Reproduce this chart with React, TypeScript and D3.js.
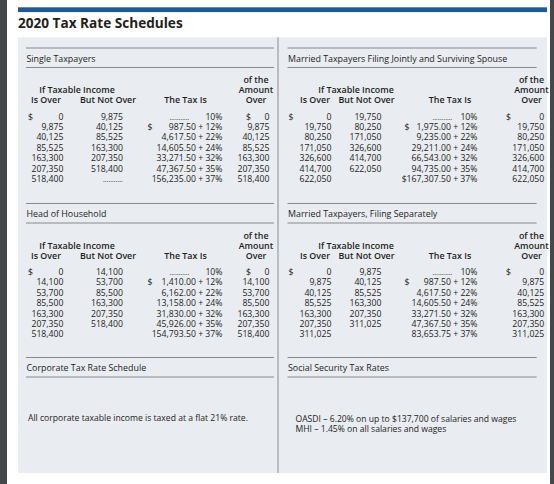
import React from "react";
import * as d3 from "d3";

// ---------- data ----------
const rates = [10, 12, 22, 24, 32, 35, 37];

const singleIsOver = [0, 9875, 40125, 85525, 163300, 207350, 518400];
const singleButNotOver = [9875, 40125, 85525, 163300, 207350, 518400, null];
const singleTaxBase = [0, 987.5, 4617.5, 14605.5, 33271.5, 47367.5, 156235.0];

const jointIsOver = [0, 19750, 80250, 171050, 326600, 414700, 622050];
const jointButNotOver = [19750, 80250, 171050, 326600, 414700, 622050, null];
const jointTaxBase = [0, 1975.0, 9235.0, 29211.0, 66543.0, 94735.0, 167307.5];

const hohIsOver = [0, 14100, 53700, 85500, 163300, 207350, 518400];
const hohButNotOver = [14100, 53700, 85500, 163300, 207350, 518400, null];
const hohTaxBase = [0, 1410.0, 6162.0, 13158.0, 31830.0, 45926.0, 154793.5];

const sepIsOver = [0, 9875, 40125, 85525, 163300, 207350, 311025];
const sepButNotOver = [9875, 40125, 85525, 163300, 207350, 311025, null];
const sepTaxBase = [0, 987.5, 4617.5, 14605.5, 33271.5, 47367.5, 83653.75];

const sectionTitles = [
  "Single Taxpayers",
  "Married Taxpayers Filing Jointly and Surviving Spouse",
  "Head of Household",
  "Married Taxpayers, Filing Separately",
  "Corporate Tax Rate Schedule",
  "Social Security Tax Rates",
];

const corporateText = ["All corporate taxable income is taxed at a flat 21% rate."];
const socialSecurityText = [
  "OASDI – 6.20% on up to $137,700 of salaries and wages",
  "MHI – 1.45% on all salaries and wages",
];

const mainTitle = "2020 Tax Rate Schedules";

// ---------- styling / layout ----------
const W = 554;
const H = 484;
const FONT = "'Open Sans', 'Noto Sans', sans-serif";
const TEXT = "#231f20";
const RULE = "#7d7f82";
const PANEL = "#e9ecf1";
const BLUE = "#1f5b92";

const fmtInt = d3.format(",");
const fmtDec = d3.format(",.2f");

type Cols = {
  x0: number;
  x1: number;
  dollar: number;
  isOverR: number;
  bnoR: number;
  taxDollar: number;
  taxR: number;
  dotsL: number;
  amtDollar: number;
  amtR: number;
  hIncome: number;
  hIsOver: number;
  hBno: number;
  hTax: number;
  hAmt: number;
};

const leftCols: Cols = {
  x0: 26, x1: 274,
  dollar: 28, isOverR: 63.5, bnoR: 123, taxDollar: 147.5, taxR: 222.5,
  dotsL: 169.5, amtDollar: 246, amtR: 269.5,
  hIncome: 77, hIsOver: 46, hBno: 108, hTax: 185.5, hAmt: 256,
};
const rightCols: Cols = {
  x0: 287.5, x1: 536.7,
  dollar: 288.5, isOverR: 331.5, bnoR: 381.5, taxDollar: 404.5, taxR: 477.5,
  dotsL: 432.5, amtDollar: 506, amtR: 544.3,
  hIncome: 356, hIsOver: 315, hBno: 366.5, hTax: 450, hAmt: 531.5,
};

const tops = [48, 203.5, 357.5];

type Schedule = {
  title: string;
  cols: Cols;
  top: number;
  isOver: number[];
  butNotOver: (number | null)[];
  taxBase: number[];
  openDots: boolean;
  dollarRows: number[];
  attachedDollarRows: number[];
};

const schedules: Schedule[] = [
  { title: sectionTitles[0], cols: leftCols, top: tops[0], isOver: singleIsOver, butNotOver: singleButNotOver, taxBase: singleTaxBase, openDots: true, dollarRows: [1], attachedDollarRows: [] },
  { title: sectionTitles[1], cols: rightCols, top: tops[0], isOver: jointIsOver, butNotOver: jointButNotOver, taxBase: jointTaxBase, openDots: false, dollarRows: [1], attachedDollarRows: [6] },
  { title: sectionTitles[2], cols: leftCols, top: tops[1], isOver: hohIsOver, butNotOver: hohButNotOver, taxBase: hohTaxBase, openDots: false, dollarRows: [1], attachedDollarRows: [] },
  { title: sectionTitles[3], cols: rightCols, top: tops[1], isOver: sepIsOver, butNotOver: sepButNotOver, taxBase: sepTaxBase, openDots: false, dollarRows: [1], attachedDollarRows: [] },
];

const DATA_FS = 8.7;
const HEAD_FS = 8.9;
const SEC_FS = 8.9;
const BODY_FS = 8.6;

function Dots({ x, y }: { x: number; y: number }) {
  return (
    <text x={x} y={y} fontSize={6.5} fill={TEXT} letterSpacing={0.1}>
      ...........
    </text>
  );
}

function SectionHeader({ cols, top, title }: { cols: Cols; top: number; title: string }) {
  return (
    <g>
      <line x1={cols.x0} x2={cols.x1} y1={top} y2={top} stroke={RULE} strokeWidth={0.9} />
      <text x={cols.x0 + 0.5} y={top + 13.5} fontSize={SEC_FS} fill={TEXT}>
        {title}
      </text>
      <line x1={cols.x0} x2={cols.x1} y1={top + 19.5} y2={top + 19.5} stroke={RULE} strokeWidth={0.9} />
    </g>
  );
}

function ScheduleTable({ s }: { s: Schedule }) {
  const c = s.cols;
  const rows = d3.range(s.isOver.length);
  const y = d3.scaleLinear().domain([0, rows.length - 1]).range([s.top + 71.5, s.top + 71.5 + 10.4 * (rows.length - 1)]);
  const hy = s.top;
  return (
    <g>
      <SectionHeader cols={c} top={s.top} title={s.title} />
      <g fontSize={HEAD_FS} fontWeight={600} fill={TEXT} textAnchor="middle">
        <text x={c.hAmt} y={hy + 35}>of the</text>
        <text x={c.hIncome} y={hy + 45}>If Taxable Income</text>
        <text x={c.hAmt} y={hy + 45}>Amount</text>
        <text x={c.hIsOver} y={hy + 55}>Is Over</text>
        <text x={c.hBno} y={hy + 55}>But Not Over</text>
        <text x={c.hTax} y={hy + 55}>The Tax Is</text>
        <text x={c.hAmt} y={hy + 55}>Over</text>
      </g>
      <g fontSize={DATA_FS} fill={TEXT}>
        {rows.map((i) => {
          const yy = y(i);
          const bno = s.butNotOver[i];
          const attached = s.attachedDollarRows.includes(i) ? "$" : "";
          return (
            <g key={i}>
              {i === 0 && <text x={c.dollar} y={yy}>$</text>}
              <text x={c.isOverR} y={yy} textAnchor="end">{fmtInt(s.isOver[i])}</text>
              {bno !== null ? (
                <text x={c.bnoR} y={yy} textAnchor="end">{fmtInt(bno)}</text>
              ) : s.openDots ? (
                <Dots x={c.bnoR - 20} y={yy} />
              ) : null}
              {i === 0 ? (
                <g>
                  <Dots x={c.dotsL} y={yy} />
                  <text x={c.taxR} y={yy} textAnchor="end">{rates[i]}%</text>
                </g>
              ) : (
                <g>
                  {s.dollarRows.includes(i) && <text x={c.taxDollar} y={yy}>$</text>}
                  <text x={c.taxR} y={yy} textAnchor="end">
                    {attached + fmtDec(s.taxBase[i]) + " + " + rates[i] + "%"}
                  </text>
                </g>
              )}
              {i === 0 && <text x={c.amtDollar} y={yy}>$</text>}
              <text x={c.amtR} y={yy} textAnchor="end">{fmtInt(s.isOver[i])}</text>
            </g>
          );
        })}
      </g>
    </g>
  );
}

export default function App() {
  return (
    <div style={{ position: "absolute", left: 0, top: 0, width: W, height: H }}>
      <svg width={W} height={H} viewBox={`0 0 ${W} ${H}`} fontFamily={FONT} style={{ display: "block" }}>
        <rect x={0} y={0} width={W} height={H} fill="#ffffff" />
        <rect x={0} y={0} width={7} height={H} fill="#45484b" />
        <rect x={550} y={0} width={4} height={H} fill="#45484b" />
        <rect x={18} y={7.3} width={529} height={4.8} fill={BLUE} />
        <text x={18} y={28} fontSize={13.6} fontWeight={700} fill={TEXT}>
          {mainTitle}
        </text>
        <rect x={18} y={37.3} width={529} height={435.7} fill={PANEL} />
        <line x1={278} x2={278} y1={37.3} y2={473} stroke="#8a8c8f" strokeWidth={1} />

        {schedules.map((s, k) => (
          <ScheduleTable key={k} s={s} />
        ))}

        <SectionHeader cols={leftCols} top={tops[2]} title={sectionTitles[4]} />
        <SectionHeader cols={rightCols} top={tops[2]} title={sectionTitles[5]} />

        <g fontSize={BODY_FS} fill={TEXT}>
          {corporateText.map((t, i) => (
            <text key={i} x={28} y={421 + i * 9.5}>{t}</text>
          ))}
          {socialSecurityText.map((t, i) => (
            <text key={i} x={295.5} y={422 + i * 9.5}>{t}</text>
          ))}
        </g>
      </svg>
    </div>
  );
}
